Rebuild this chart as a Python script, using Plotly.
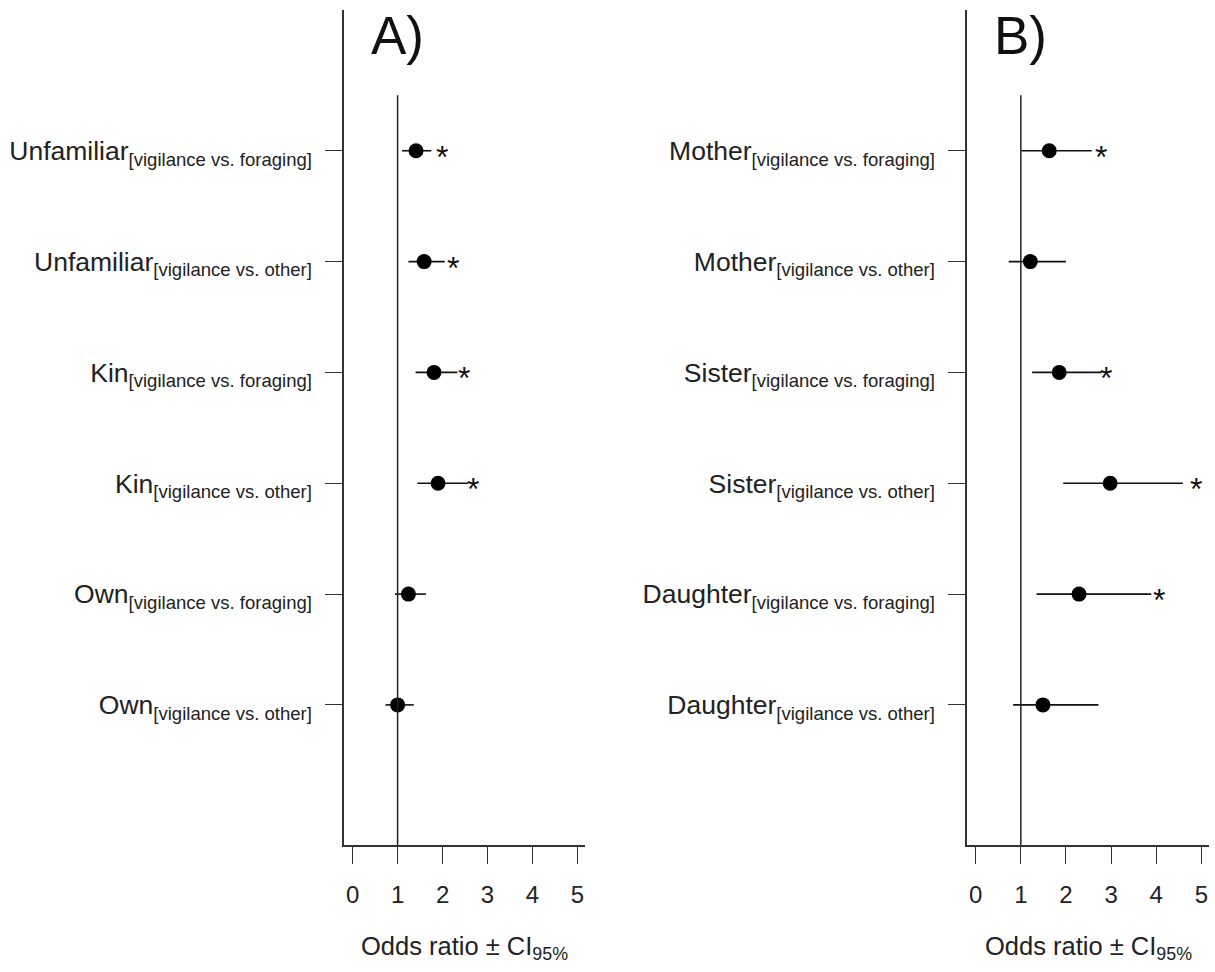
import plotly.graph_objects as go

FONT = "Liberation Sans, Arial, Helvetica, sans-serif"

# ---------------- data ----------------
rows = [6, 5, 4, 3, 2, 1]

labels_a = [
    "Unfamiliar<sub>[vigilance vs. foraging]</sub>",
    "Unfamiliar<sub>[vigilance vs. other]</sub>",
    "Kin<sub>[vigilance vs. foraging]</sub>",
    "Kin<sub>[vigilance vs. other]</sub>",
    "Own<sub>[vigilance vs. foraging]</sub>",
    "Own<sub>[vigilance vs. other]</sub>",
]
est_a = [1.41, 1.59, 1.81, 1.90, 1.24, 1.00]
low_a = [1.10, 1.24, 1.40, 1.44, 0.94, 0.73]
up_a = [1.75, 2.05, 2.33, 2.57, 1.63, 1.36]
star_a = [1.98, 2.24, 2.47, 2.68, None, None]

labels_b = [
    "Mother<sub>[vigilance vs. foraging]</sub>",
    "Mother<sub>[vigilance vs. other]</sub>",
    "Sister<sub>[vigilance vs. foraging]</sub>",
    "Sister<sub>[vigilance vs. other]</sub>",
    "Daughter<sub>[vigilance vs. foraging]</sub>",
    "Daughter<sub>[vigilance vs. other]</sub>",
]
est_b = [1.63, 1.21, 1.85, 2.98, 2.29, 1.49]
low_b = [1.01, 0.73, 1.25, 1.94, 1.35, 0.83]
up_b = [2.57, 2.00, 2.79, 4.59, 3.89, 2.72]
star_b = [2.78, None, 2.88, 4.88, 4.07, None]

x_ticks = [0, 1, 2, 3, 4, 5]
panel_titles = ["A)", "B)"]
x_title = "Odds ratio ± CI<sub>95%</sub>"

W, H = 1215, 972


def px_x(v):
    return min(1.0, max(0.0, v / W))


def px_y(v):
    return min(1.0, max(0.0, 1 - v / H))


# ---------------- figure ----------------
fig = go.Figure()

panels = [
    (labels_a, est_a, low_a, up_a, star_a, "x", "y"),
    (labels_b, est_b, low_b, up_b, star_b, "x2", "y2"),
]

for labels, est, low, up, star, xa, ya in panels:
    fig.add_trace(go.Scatter(
        x=est, y=rows, xaxis=xa, yaxis=ya, mode="markers",
        marker=dict(size=15, color="black"),
        error_x=dict(type="data", symmetric=False,
                     array=[u - e for u, e in zip(up, est)],
                     arrayminus=[e - l for e, l in zip(est, low)],
                     width=0, thickness=1.6, color="#111111"),
        showlegend=False, hoverinfo="skip",
    ))
    for sx, r in zip(star, rows):
        if sx is not None:
            fig.add_annotation(x=sx, y=r, xref=xa, yref=ya, text="*",
                               showarrow=False, xanchor="center", yanchor="middle",
                               yshift=-6, font=dict(family=FONT, size=32, color="#111111"))
    # reference line at odds ratio = 1
    fig.add_shape(type="line", x0=1, x1=1, y0=-0.27, y1=6.5, xref=xa, yref=ya,
                  line=dict(color="#222222", width=1.5))

for t, xa, ya in zip(panel_titles, ["x", "x2"], ["y", "y2"]):
    fig.add_annotation(x=1, y=7.04, xref=xa, yref=ya, text=t, showarrow=False,
                       xanchor="center", yanchor="middle",
                       font=dict(family=FONT, size=53, color="#111111"))

for xa in ["x", "x2"]:
    dom = "x domain" if xa == "x" else "x2 domain"
    fig.add_annotation(x=0.5, y=px_y(948), xref=dom, yref="paper", text=x_title,
                       showarrow=False, xanchor="center", yanchor="middle",
                       font=dict(family=FONT, size=25.5, color="#222222"))

xaxis_common = dict(
    range=[-0.193, 5.17], tickvals=x_ticks, ticktext=[str(v) for v in x_ticks],
    ticks="outside", ticklen=17, tickwidth=1.4, tickcolor="#333333",
    showline=True, linecolor="#333333", linewidth=1.5,
    showgrid=False, zeroline=False,
    tickfont=dict(family=FONT, size=24, color="#222222"),
    ticklabelstandoff=10, fixedrange=True,
)
yaxis_common = dict(
    range=[-0.264, 7.27], tickvals=rows,
    ticks="outside", ticklen=17, tickwidth=1.4, tickcolor="#333333",
    showline=True, linecolor="#333333", linewidth=1.5,
    showgrid=False, zeroline=False,
    tickfont=dict(family=FONT, size=26.5, color="#222222"),
    ticklabelstandoff=8, fixedrange=True,
)

ydom = [px_y(845), px_y(10)]

fig.update_layout(
    width=W, height=H,
    margin=dict(l=0, r=0, t=0, b=0),
    paper_bgcolor="white", plot_bgcolor="white",
    font=dict(family=FONT, color="#222222"),
    xaxis=dict(domain=[px_x(344), px_x(585)], anchor="y", **xaxis_common),
    yaxis=dict(domain=ydom, anchor="x", ticktext=labels_a, **yaxis_common),
    xaxis2=dict(domain=[px_x(967), px_x(1209)], anchor="y2", **xaxis_common),
    yaxis2=dict(domain=ydom, anchor="x2", ticktext=labels_b, **yaxis_common),
)

fig.write_html(
    "out.html",
    config={"displayModeBar": False},
    post_script="document.body.style.margin='0px';document.body.style.overflow='hidden';",
)
